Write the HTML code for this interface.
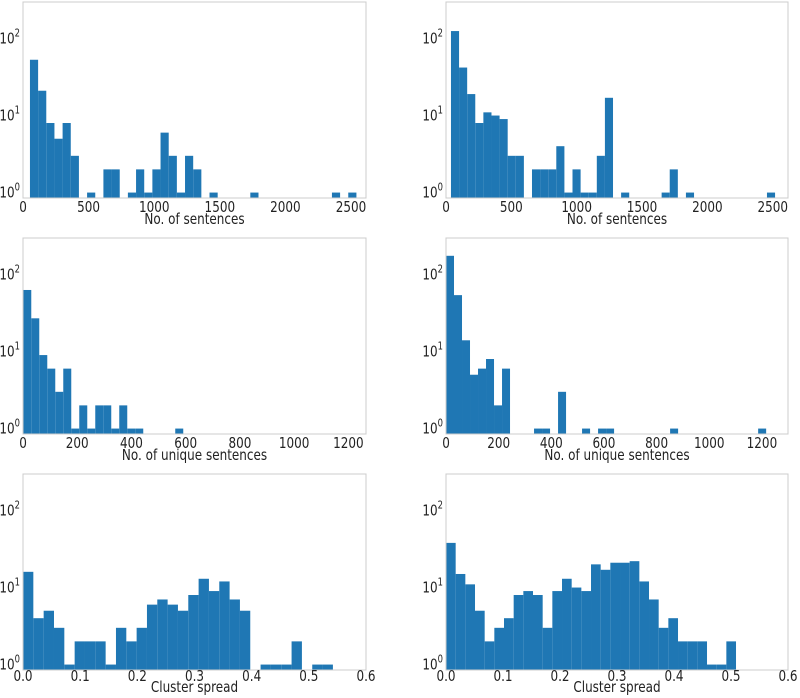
<!DOCTYPE html>
<html><head><meta charset="utf-8"><style>
html,body{margin:0;padding:0;background:#fff;}
svg{display:block;font-family:"DejaVu Sans","Liberation Sans",sans-serif;}
</style></head><body>
<svg id="fig" width="800" height="698" viewBox="0 0 800 698" xmlns="http://www.w3.org/2000/svg"></svg>
<script>
// Panel data (counts per bin)
const p1Counts=[53,21,8,5,8,3,0,1,0,2,2,0,1,2,1,2,6,3,1,3,2,0,1,0,0,0,0,1,0,0,0,0,0,0,0,0,0,1,0,1];
const p2Counts=[125,42,19,8,11,10,9,3,3,0,2,2,2,4,1,2,1,1,3,17,0,1,0,0,0,0,1,2,0,1,0,0,0,0,0,0,0,0,0,1];
const p3Counts=[63,27,9,6,3,6,1,2,1,2,2,1,2,1,1,0,0,0,0,1];
const p4Counts=[175,54,14,5,6,8,2,6,0,0,0,1,1,0,3,0,0,1,0,1,1,0,0,0,0,0,0,0,1,0,0,0,0,0,0,0,0,0,0,1];
const p5Counts=[16,4,5,3,1,2,2,2,1,3,2,3,6,7,6,5,8,13,9,12,7,5,0,1,1,1,2,0,1,1];
const p6Counts=[38,15,11,5,2,3,4,8,9,8,3,9,13,10,9,20,17,21,21,22,12,7,3,4,2,2,2,1,1,2];
// bin starts / widths (data units)
const binStarts=[53,38,1,0,0,0];
const binWidths=[62.2,62,29.5,30.4,0.01807,0.01696];
// x-axis ticks
const ticksSent=[0,500,1000,1500,2000,2500];
const ticksUniq=[0,200,400,600,800,1000,1200];
const ticksSpread=[0,0.1,0.2,0.3,0.4,0.5,0.6];
const tickLabSpread=["0.0","0.1","0.2","0.3","0.4","0.5","0.6"];
const yTicks=[1,10,100];
const yTickExp=["0","1","2"];
const xTitles=["No. of sentences","No. of sentences","No. of unique sentences","No. of unique sentences","Cluster spread","Cluster spread"];

const NS="http://www.w3.org/2000/svg";
const svg=document.getElementById('fig');
function mk(tag,attrs,parent){const e=document.createElementNS(NS,tag);for(const k in attrs)e.setAttribute(k,attrs[k]);(parent||svg).appendChild(e);return e;}
const SX=0.8, FS=15;
function txt(parent,x,y,anchor,size){
  return mk('text',{x:0,y:0,transform:'translate('+x+','+y+') scale('+SX+',1)','font-size':size,fill:'#222','text-anchor':anchor},parent);
}

const panels=[
 {x0:23,x1:366,yb:198,xmax:2614,counts:p1Counts,ticks:ticksSent,labs:null},
 {x0:446,x1:788,yb:198,xmax:2617,counts:p2Counts,ticks:ticksSent,labs:null},
 {x0:23,x1:366,yb:434,xmax:1265,counts:p3Counts,ticks:ticksUniq,labs:null},
 {x0:446,x1:788,yb:434,xmax:1299,counts:p4Counts,ticks:ticksUniq,labs:null},
 {x0:23,x1:366,yb:670,xmax:0.6,counts:p5Counts,ticks:ticksSpread,labs:tickLabSpread},
 {x0:446,x1:788,yb:670,xmax:0.6,counts:p6Counts,ticks:ticksSpread,labs:tickLabSpread}
];
const YMINL=Math.log10(0.85), YMAXL=Math.log10(298), PH=196;

panels.forEach((p,i)=>{
  const g=mk('g',{});
  
  
  const top=p.yb-PH;
  const xs=v=>p.x0+(v/p.xmax)*(p.x1-p.x0);
  const ys=v=>p.yb-(Math.log10(v)-YMINL)/(YMAXL-YMINL)*PH;
  p.counts.forEach((c,k)=>{
    if(c<=0)return;
    const a=xs(binStarts[i]+k*binWidths[i]), b=xs(binStarts[i]+(k+1)*binWidths[i]);
    const y=ys(c);
    const r=mk('rect',{x:a,y:y,width:b-a,height:p.yb-y,fill:'#1f77b4'},g);
    
    
  });
  const f=mk('rect',{x:p.x0,y:top,width:p.x1-p.x0,height:PH,fill:'none',stroke:'#cccccc','stroke-width':1},g);
  
  
  const last=i>=4;
  p.ticks.forEach((t,k)=>{
    const tx=txt(g,xs(t),p.yb+(last?11:14),'middle',FS);
    tx.textContent=p.labs?p.labs[k]:String(t);
    
    
  });
  yTicks.forEach((t,k)=>{
    const ty=txt(g,p.x0-3,ys(t)+5,'end',FS);
    
    
    const t1=document.createElementNS(NS,'tspan');t1.textContent='10';ty.appendChild(t1);
    const t2=document.createElementNS(NS,'tspan');t2.setAttribute('dy','-7');t2.setAttribute('font-size','10.5');t2.textContent=yTickExp[k];ty.appendChild(t2);
  });
  const xt=txt(g,(p.x0+p.x1)/2,p.yb+(last?22:26),'middle',FS);
  xt.textContent=xTitles[i];
  
  
});
</script>
</body></html>
